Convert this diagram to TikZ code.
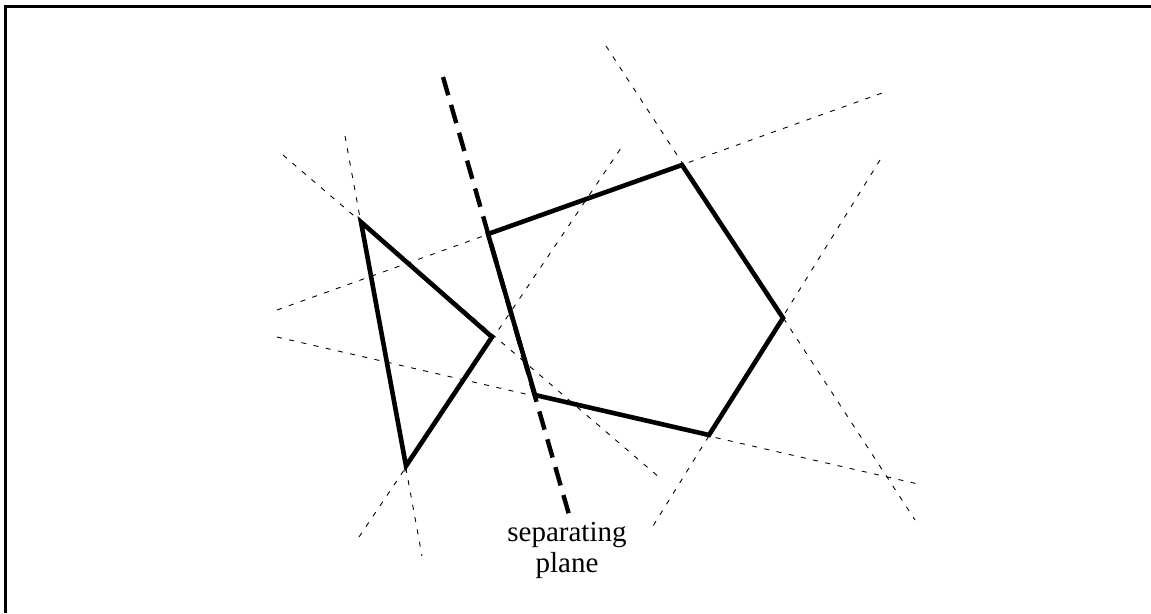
\documentclass[tikz,border=0pt]{standalone}
\usepackage{fontspec}
\setmainfont{Liberation Serif}
\begin{document}
\begin{tikzpicture}[x=1pt,y=-1pt,
  frameline/.style={line width=3pt},
  body/.style={line width=4.6pt, line join=miter},
  extline/.style={line width=0.9pt, dash pattern=on 5pt off 7.5pt},
  planeline/.style={line width=4.4pt, dash pattern=on 19pt off 10pt},
  lbl/.style={font=\fontsize{29}{31}\selectfont, align=center, inner sep=0pt, anchor=north}]
\useasboundingbox (0,0) rectangle (1151,613);
% frame
\coordinate (F1) at (5,613);
\coordinate (F2) at (5,6);
\coordinate (F3) at (1151,6);
\draw[frameline] (F1) -- (F2) -- (F3);
% triangle
\coordinate (T1) at (361,222);
\coordinate (T2) at (492,337);
\coordinate (T3) at (406,466);
% pentagon
\coordinate (P1) at (488,234);
\coordinate (P2) at (682,165);
\coordinate (P3) at (783,318);
\coordinate (P4) at (709,435);
\coordinate (P5) at (535,395);
% extension line ends
\coordinate (a1) at (283,155);   \coordinate (a2) at (660,478);
\coordinate (b1) at (345,136);   \coordinate (b2) at (422,556);
\coordinate (c1) at (359,537);   \coordinate (c2) at (623,145);
\coordinate (d1) at (277,310);   \coordinate (d2) at (885,92);
\coordinate (e1) at (606,46);    \coordinate (e2) at (915,520);
\coordinate (f1) at (880,160);   \coordinate (f2) at (653,526);
\coordinate (g1) at (277,337);   \coordinate (g2) at (918,484);
\coordinate (s1) at (443,77);    \coordinate (s2) at (570,518);
% dashed extensions
\draw[extline] (a1) -- (a2);
\draw[extline] (b1) -- (b2);
\draw[extline] (c1) -- (c2);
\draw[extline] (d1) -- (d2);
\draw[extline] (e1) -- (e2);
\draw[extline] (f1) -- (f2);
\draw[extline] (g1) -- (g2);
% separating plane
\draw[planeline] (s1) -- (s2);
% bodies
\draw[body] (T1) -- (T2) -- (T3) -- cycle;
\draw[body] (P1) -- (P2) -- (P3) -- (P4) -- (P5) -- cycle;
% label
\node[lbl] (lab) at (567,522) {separating\\plane};
\end{tikzpicture}
\end{document}
